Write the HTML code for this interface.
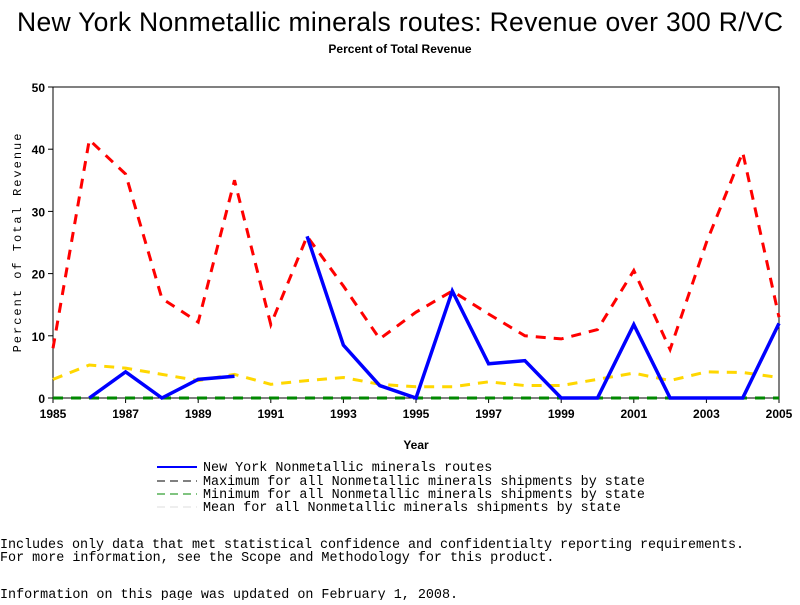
<!DOCTYPE html>
<html><head><meta charset="utf-8"><style>
body{margin:0;background:#fff;width:800px;height:600px;overflow:hidden}
svg text{font-family:"Liberation Sans",sans-serif}
.m{font-family:"Liberation Mono",monospace!important;font-size:13.4px}
</style></head><body>
<svg id="c" width="800" height="600">
<text x="400" y="31" text-anchor="middle" font-size="26.5" textLength="766">New York Nonmetallic minerals routes: Revenue over 300 R/VC</text>
<text x="400" y="53" text-anchor="middle" font-size="12" font-weight="bold">Percent of Total Revenue</text>
<rect x="53" y="87" width="726" height="311" fill="none" stroke="#000"/>
<g id="axes"></g><g id="series"></g>
<text x="416" y="449" text-anchor="middle" font-size="12" font-weight="bold">Year</text>
<text transform="translate(21,242) rotate(-90)" text-anchor="middle" class="m" style="font-size:12px;letter-spacing:2px">Percent of Total Revenue</text>
<g>
<line x1="157" y1="467" x2="197" y2="467" stroke="#00f" stroke-width="2"/><text x="203" y="471" class="m">New York Nonmetallic minerals routes</text>
<line x1="157" y1="481" x2="197" y2="481" stroke="#000" stroke-dasharray="8,5"/><text x="203" y="485" class="m">Maximum for all Nonmetallic minerals shipments by state</text>
<line x1="157" y1="494" x2="197" y2="494" stroke="#080" stroke-dasharray="8,5"/><text x="203" y="498" class="m">Minimum for all Nonmetallic minerals shipments by state</text>
<line x1="157" y1="507" x2="197" y2="507" stroke="#ddd" stroke-dasharray="8,5"/><text x="203" y="511" class="m">Mean for all Nonmetallic minerals shipments by state</text>
</g>
<text x="0" y="548" class="m" textLength="744">Includes only data that met statistical confidence and confidentialty reporting requirements.</text>
<text x="0" y="561" class="m">For more information, see the Scope and Methodology for this product.</text>
<text x="0" y="598" class="m">Information on this page was updated on February 1, 2008.</text>
</svg>
<script>
const years=[1985,1986,1987,1988,1989,1990,1991,1992,1993,1994,1995,1996,1997,1998,1999,2000,2001,2002,2003,2004,2005];
const nyValues=[null,0,4.2,0,3,3.5,null,26,8.5,2,0,17.2,5.5,6,0,0,11.8,0,0,0,12];
const maxValues=[8,41.5,36,16,12.2,35,11.8,26,18,9.5,13.8,17.2,13.5,10,9.5,11,20.5,7.8,25,39.5,13];
const minValues=[0,0,0,0,0,0,0,0,0,0,0,0,0,0,0,0,0,0,0,0,0];
const meanValues=[3,5.3,4.8,3.8,2.8,3.8,2.2,2.8,3.3,2.2,1.8,1.8,2.6,2,2,3,4,2.8,4.2,4.1,3.3];
const yTicks=[0,10,20,30,40,50];
const xTicks=[1985,1987,1989,1991,1993,1995,1997,1999,2001,2003,2005];
const NS="http://www.w3.org/2000/svg";
const X=y=>53+(y-1985)*726/20, Y=v=>398-v*311/50;
const ax=document.getElementById('axes'), sr=document.getElementById('series');
function mk(t,a,p){const e=document.createElementNS(NS,t);for(const k in a)e.setAttribute(k,a[k]);p.appendChild(e);return e;}
yTicks.forEach(v=>{mk('line',{x1:48,x2:53,y1:Y(v),y2:Y(v),stroke:'#000'},ax);
const t=mk('text',{x:45,y:Y(v)+5,'text-anchor':'end','font-size':12,'font-weight':'bold'},ax);t.textContent=v;

});
xTicks.forEach(v=>{mk('line',{x1:X(v),x2:X(v),y1:398,y2:403,stroke:'#000'},ax);
const t=mk('text',{x:X(v),y:418,'text-anchor':'middle','font-size':12,'font-weight':'bold'},ax);t.textContent=v;

});
function line(vals,attrs,name){let d='',pen=false;vals.forEach((v,i)=>{if(v==null){pen=false;return;}d+=(pen?'L':'M')+X(years[i])+','+Y(v);pen=true;});
const p=mk('path',Object.assign({d:d,fill:'none'},attrs),sr);

}
line(meanValues,{stroke:'#ffd700','stroke-width':3,'stroke-dasharray':'10,8'},'mean-line');
line(maxValues,{stroke:'#f00','stroke-width':3,'stroke-dasharray':'10,8'},'max-line');
line(minValues,{stroke:'#080','stroke-width':3,'stroke-dasharray':'10,8'},'min-line');
line(nyValues,{stroke:'#00f','stroke-width':3.5},'ny-line');
</script>
</body></html>
